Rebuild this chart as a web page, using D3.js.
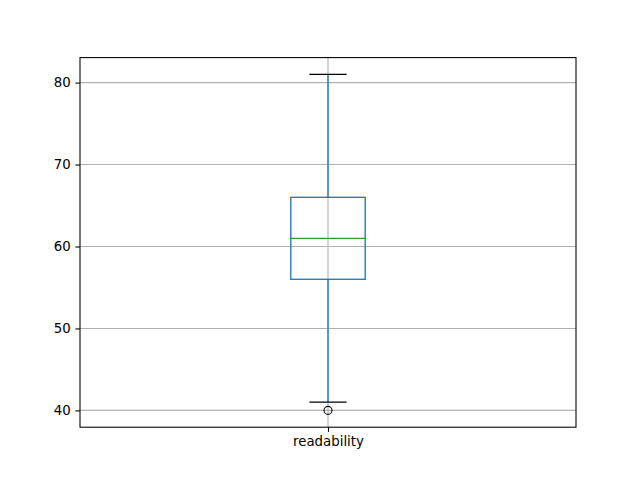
<!DOCTYPE html>
<html>
<head>
<meta charset="utf-8">
<script src="https://cdn.jsdelivr.net/npm/d3@7"></script>
<style>
  body { margin: 0; background: #fff; }
  svg text { font-family: "DejaVu Sans", sans-serif; font-size: 13.33px; fill: #000; }
</style>
</head>
<body>
<svg id="chart"></svg>
<script>
// box plot stats
var categories = ["readability"];
var positions = [1];
var q1Values = [56];
var medianValues = [61];
var q3Values = [66];
var whiskerLow = [41];
var whiskerHigh = [81];
var outliers = [[40]];
var yTicks = [40, 50, 60, 70, 80];

function drawChart() {
  var W = 640, H = 480;
  var left = 80, right = 576, top = 57.6, bottom = 427.2;

  var svg = d3.select("#chart").attr("width", W).attr("height", H);

  var xScale = d3.scaleLinear().domain([0.5, 1.5]).range([left, right]);
  var yScale = d3.scaleLinear().domain([37.95, 83.05]).range([bottom, top]);

  // grid
  var grid = svg.append("g");
  grid.selectAll("line.hgrid")
    .data(yTicks)
    .enter()
    .append("line")
    .attr("x1", left).attr("x2", right)
    .attr("y1", function(d) { return yScale(d); })
    .attr("y2", function(d) { return yScale(d); })
    .attr("stroke", "#b0b0b0").attr("stroke-width", 1.07);
  grid.selectAll("line.vgrid")
    .data(positions)
    .enter()
    .append("line")
    .attr("y1", top).attr("y2", bottom)
    .attr("x1", function(d) { return xScale(d); })
    .attr("x2", function(d) { return xScale(d); })
    .attr("stroke", "#b0b0b0").attr("stroke-width", 1.07);

  var boxW = 0.15, capW = 0.075;
  var boxes = svg.append("g").selectAll("g")
    .data(positions)
    .enter()
    .append("g");

  // whiskers
  boxes.append("line")
    .attr("x1", function(d) { return xScale(d); })
    .attr("x2", function(d) { return xScale(d); })
    .attr("y1", function(d, i) { return yScale(q3Values[i]); })
    .attr("y2", function(d, i) { return yScale(whiskerHigh[i]); })
    .attr("stroke", "#1f77b4").attr("stroke-width", 1.33);
  boxes.append("line")
    .attr("x1", function(d) { return xScale(d); })
    .attr("x2", function(d) { return xScale(d); })
    .attr("y1", function(d, i) { return yScale(q1Values[i]); })
    .attr("y2", function(d, i) { return yScale(whiskerLow[i]); })
    .attr("stroke", "#1f77b4").attr("stroke-width", 1.33);

  // caps
  [whiskerHigh, whiskerLow].forEach(function(arr) {
    boxes.append("line")
      .attr("x1", function(d) { return xScale(d - capW / 2); })
      .attr("x2", function(d) { return xScale(d + capW / 2); })
      .attr("y1", function(d, i) { return yScale(arr[i]); })
      .attr("y2", function(d, i) { return yScale(arr[i]); })
      .attr("stroke", "#000").attr("stroke-width", 1.33);
  });

  // box
  boxes.append("rect")
    .attr("x", function(d) { return xScale(d - boxW / 2); })
    .attr("width", function(d) { return xScale(d + boxW / 2) - xScale(d - boxW / 2); })
    .attr("y", function(d, i) { return yScale(q3Values[i]); })
    .attr("height", function(d, i) { return yScale(q1Values[i]) - yScale(q3Values[i]); })
    .attr("fill", "none")
    .attr("stroke", "#1f77b4").attr("stroke-width", 1.33);

  // median
  boxes.append("line")
    .attr("x1", function(d) { return xScale(d - boxW / 2); })
    .attr("x2", function(d) { return xScale(d + boxW / 2); })
    .attr("y1", function(d, i) { return yScale(medianValues[i]); })
    .attr("y2", function(d, i) { return yScale(medianValues[i]); })
    .attr("stroke", "#2ca02c").attr("stroke-width", 1.33);

  // fliers
  boxes.each(function(d, i) {
    d3.select(this).selectAll("circle")
      .data(outliers[i])
      .enter()
      .append("circle")
      .attr("cx", xScale(d))
      .attr("cy", function(v) { return yScale(v); })
      .attr("r", 4)
      .attr("fill", "none")
      .attr("stroke", "#000").attr("stroke-width", 1.07);
  });

  // axes
  var xAxis = d3.axisBottom(xScale)
    .tickValues(positions)
    .tickFormat(function(d, i) { return categories[i]; })
    .tickSize(4.67).tickPadding(4.67);
  svg.append("g")
    .attr("transform", "translate(0," + bottom + ")")
    .call(xAxis)
    .call(function(g) { g.select(".domain").remove(); });

  var yAxis = d3.axisLeft(yScale)
    .tickValues(yTicks)
    .tickSize(4.67).tickPadding(4.67);
  svg.append("g")
    .attr("transform", "translate(" + left + ",0)")
    .call(yAxis)
    .call(function(g) { g.select(".domain").remove(); });

  svg.selectAll(".tick line").attr("stroke", "#000").attr("stroke-width", 1.07);
  svg.selectAll(".tick text").style("font-size", "13.33px").attr("fill", "#000");

  // spines
  svg.append("rect")
    .attr("x", left).attr("y", top)
    .attr("width", right - left).attr("height", bottom - top)
    .attr("fill", "none")
    .attr("stroke", "#000").attr("stroke-width", 1.07);
}

drawChart();
</script>
</body>
</html>
